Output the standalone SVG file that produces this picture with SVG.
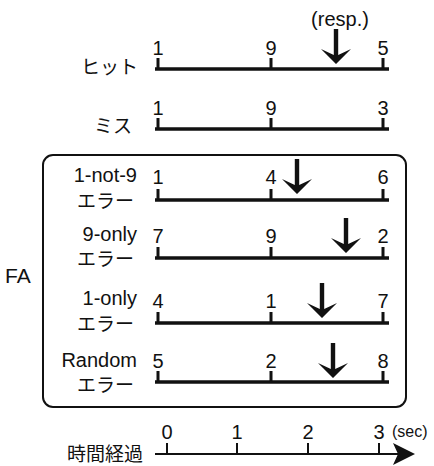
<svg xmlns="http://www.w3.org/2000/svg" xmlns:xlink="http://www.w3.org/1999/xlink" width="434" height="466" viewBox="0 0 434 466">
  <style>
    text { font-family: "Liberation Sans", "Noto Sans CJK JP", sans-serif; fill: #111; }
    .lab { font-size: 20px; text-anchor: end; }
    .jp { font-family: "Noto Sans CJK JP", sans-serif; font-size: 19px; text-anchor: end; }
    .num { font-size: 20px; text-anchor: middle; }
    .track { stroke: #111; stroke-width: 3.5; fill: none; }
    .tick { stroke: #111; stroke-width: 3; fill: none; }
    .axis { stroke: #111; stroke-width: 2; fill: none; }
  </style>
  <defs>
    <!-- downward response arrow, origin at the tip -->
    <path id="down" d="M-2.2,-35 L2.2,-35 L2.2,-9 L15,-15 L0,0 L-15,-15 L-2.2,-9 Z" fill="#111"/>
    <!-- timeline with three ticks, origin at left end of the baseline -->
    <g id="track">
      <path class="track" d="M155,0 H389"/>
      <path class="tick" d="M158,-11 V0 M271,-11 V0 M383,-11 V0"/>
    </g>
  </defs>

  <!-- FA bracket box -->
  <g id="fa-box">
    <rect x="43" y="155" width="363" height="252" rx="10" ry="10" fill="none" stroke="#111" stroke-width="2"/>
    <text x="5" y="283" style="font-size:21px">FA</text>
  </g>

  <g id="row-hit">
    <text class="jp" x="138" y="74">ヒット</text>
    <use xlink:href="#track" y="69"/>
    <text class="num" x="158" y="55">1</text>
    <text class="num" x="271" y="55">9</text>
    <text class="num" x="383" y="55">5</text>
    <text x="340" y="26" style="font-size:20px;text-anchor:middle">(resp.)</text>
    <use xlink:href="#down" x="336" y="64"/>
  </g>

  <g id="row-miss">
    <text class="jp" x="132" y="133">ミス</text>
    <use xlink:href="#track" y="129"/>
    <text class="num" x="158" y="115">1</text>
    <text class="num" x="271" y="115">9</text>
    <text class="num" x="383" y="115">3</text>
  </g>

  <g id="row-1-not-9">
    <text class="lab" x="137" y="182">1-not-9</text>
    <text class="jp" x="134" y="208">エラー</text>
    <use xlink:href="#track" y="200"/>
    <text class="num" x="158" y="184">1</text>
    <text class="num" x="271" y="184">4</text>
    <text class="num" x="383" y="184">6</text>
    <use xlink:href="#down" x="297" y="194"/>
  </g>

  <g id="row-9-only">
    <text class="lab" x="137" y="241">9-only</text>
    <text class="jp" x="134" y="266">エラー</text>
    <use xlink:href="#track" y="258"/>
    <text class="num" x="158" y="243">7</text>
    <text class="num" x="271" y="243">9</text>
    <text class="num" x="383" y="243">2</text>
    <use xlink:href="#down" x="346" y="253"/>
  </g>

  <g id="row-1-only">
    <text class="lab" x="137" y="305">1-only</text>
    <text class="jp" x="134" y="331">エラー</text>
    <use xlink:href="#track" y="323"/>
    <text class="num" x="158" y="308">4</text>
    <text class="num" x="271" y="308">1</text>
    <text class="num" x="383" y="308">7</text>
    <use xlink:href="#down" x="322" y="318"/>
  </g>

  <g id="row-random">
    <text class="lab" x="137" y="367">Random</text>
    <text class="jp" x="134" y="392">エラー</text>
    <use xlink:href="#track" y="382"/>
    <text class="num" x="158" y="368">5</text>
    <text class="num" x="271" y="368">2</text>
    <text class="num" x="383" y="368">8</text>
    <use xlink:href="#down" x="333" y="378"/>
  </g>

  <!-- elapsed-time axis -->
  <g id="time-axis">
    <text class="jp" x="143" y="461" style="font-size:19px">時間経過</text>
    <path class="axis" d="M155,454 H400"/>
    <path class="axis" d="M167,443 V454 M237,443 V454 M308,443 V454 M379,443 V454"/>
    <path d="M415,454 L393,443 L398,454 L393,465 Z" fill="#111"/>
    <text class="num" x="167" y="439">0</text>
    <text class="num" x="237" y="439">1</text>
    <text class="num" x="308" y="439">2</text>
    <text class="num" x="379" y="439">3</text>
    <text x="392" y="437" style="font-size:16px">(sec)</text>
  </g>
</svg>
